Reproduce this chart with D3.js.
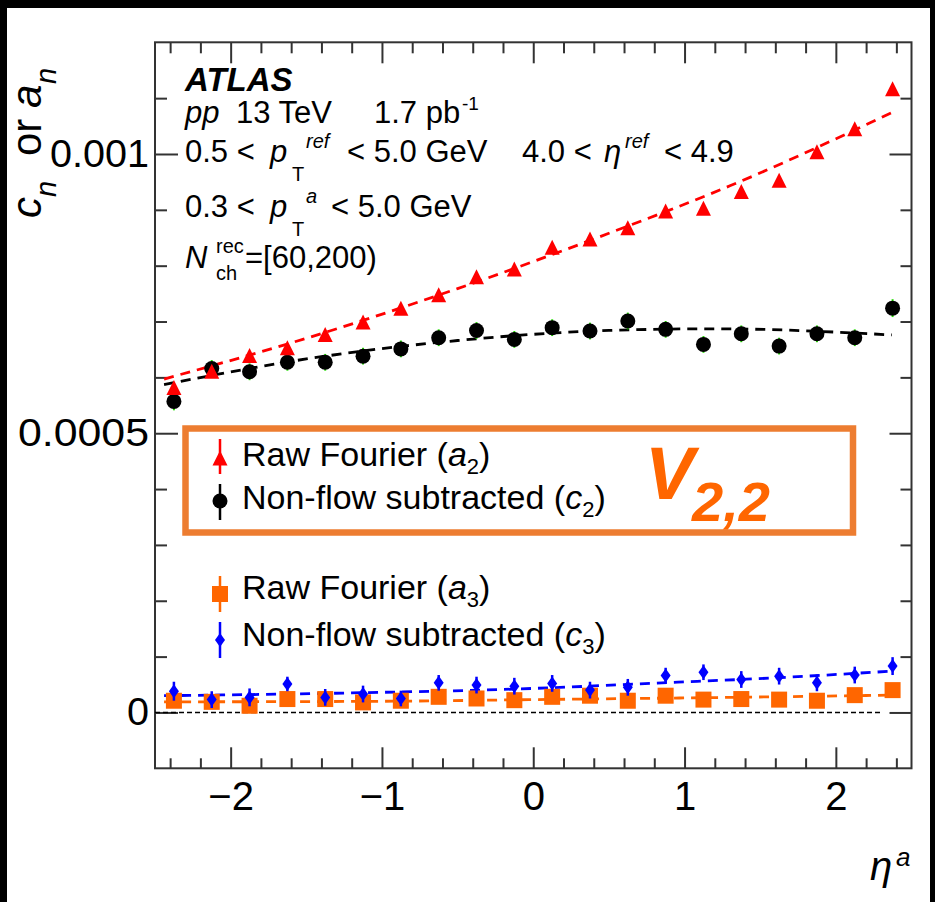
<!DOCTYPE html>
<html><head><meta charset="utf-8">
<script src="https://cdn.jsdelivr.net/npm/d3@7"></script>
<style>html,body{margin:0;padding:0;background:#000;}svg{display:block;}</style>
</head><body>
<script>
// ---------- data ----------
const etaBins = [-2.375,-2.125,-1.875,-1.625,-1.375,-1.125,-0.875,-0.625,-0.375,-0.125,
                 0.125,0.375,0.625,0.875,1.125,1.375,1.625,1.875,2.125,2.375];
const a2 = [5.82,6.11,6.39,6.53,6.77,6.99,7.24,7.48,7.80,7.94,8.33,8.48,8.68,8.98,9.03,9.33,9.53,10.04,10.45,11.17].map(v=>v*1e-4);
const c2 = [5.57,6.16,6.10,6.27,6.27,6.38,6.51,6.71,6.84,6.68,6.89,6.83,7.01,6.86,6.59,6.78,6.56,6.78,6.71,7.24].map(v=>v*1e-4);
const a3 = [0.21,0.19,0.12,0.24,0.24,0.18,0.21,0.28,0.25,0.22,0.28,0.30,0.21,0.30,0.23,0.24,0.23,0.21,0.31,0.40].map(v=>v*1e-4);
const c3 = [0.38,0.23,0.27,0.51,0.27,0.33,0.25,0.53,0.49,0.47,0.52,0.40,0.45,0.66,0.72,0.59,0.65,0.53,0.67,0.83].map(v=>v*1e-4);
const c2Err = [0.16,0.15,0.15,0.15,0.15,0.15,0.15,0.15,0.15,0.15,0.15,0.15,0.15,0.15,0.15,0.15,0.15,0.15,0.15,0.16].map(v=>v*1e-4);
const c3Err = [0.17,0.15,0.16,0.13,0.15,0.15,0.14,0.14,0.15,0.15,0.15,0.15,0.15,0.14,0.14,0.15,0.15,0.15,0.15,0.16].map(v=>v*1e-4);
// fitted (dashed) curves as [eta, value*1e4]
const fitA2 = [[-2.44,5.97],[-1.5,6.70],[-0.5,7.59],[0.5,8.58],[1.3,9.43],[2.37,10.74]];
const fitC2 = [[-2.44,5.87],[-1.5,6.33],[-0.5,6.66],[0.5,6.84],[1.2,6.87],[2.37,6.76]];
const fitA3 = [[-2.44,0.19],[-1.0,0.20],[0.0,0.23],[1.0,0.26],[2.37,0.31]];
const fitC3 = [[-2.44,0.30],[-1.2,0.35],[0.0,0.43],[0.85,0.53],[1.6,0.62],[2.37,0.74]];
const zeroLine = [[-2.5,0],[2.31,0]];
const xMajor = [-2,-1,0,1,2];
const xMinor = [-2.4,-2.2,-1.8,-1.6,-1.4,-1.2,-0.8,-0.6,-0.4,-0.2,0.2,0.4,0.6,0.8,1.2,1.4,1.6,1.8,2.2,2.4];
const xLabels = ["\u22122","\u22121","0","1","2"];
const yMajor = [0,0.0005,0.001];
const yLabels = ["0","0.0005","0.001"];
const yMinor = [0.0001,0.0002,0.0003,0.0004,0.0006,0.0007,0.0008,0.0009,0.0011];

const W=935,H=902;
const F = "'Liberation Sans', Arial, Helvetica, sans-serif";
const svg = d3.select("body").append("svg").attr("width",W).attr("height",H).style("font-family",F);
svg.append("rect").attr("width",W).attr("height",H).attr("fill","#000");
svg.append("rect").attr("x",7).attr("y",8).attr("width",923).attr("height",H-8).attr("fill","#fff");

const L=155,R=911.5,T=42.3,B=768.3;
const x = d3.scaleLinear().domain([-2.5,2.5]).range([L,R]);
const y = d3.scaleLinear().domain([-0.0001,0.0012]).range([B,T]);

const axColor="#333";
function styleAxis(g){ g.select(".domain").remove(); g.selectAll(".tick line").attr("stroke",axColor).attr("stroke-width",2); }
// bottom
svg.append("g").attr("transform",`translate(0,${B})`).call(d3.axisBottom(x).tickValues(xMinor).tickSize(-10).tickFormat("")).call(styleAxis);
const gxb = svg.append("g").attr("transform",`translate(0,${B})`)
  .call(d3.axisBottom(x).tickValues(xMajor).tickSize(-21).tickPadding(13).tickFormat((d,i)=>xLabels[i])).call(styleAxis);
gxb.selectAll("text").attr("font-size",40).attr("fill","#000").attr("font-family",F);
// top
svg.append("g").attr("transform",`translate(0,${T})`).call(d3.axisTop(x).tickValues(xMinor).tickSize(-11).tickFormat("")).call(styleAxis);
svg.append("g").attr("transform",`translate(0,${T})`).call(d3.axisTop(x).tickValues(xMajor).tickSize(-21).tickFormat("")).call(styleAxis);
// left
svg.append("g").attr("transform",`translate(${L},0)`).call(d3.axisLeft(y).tickValues(yMinor).tickSize(-12).tickFormat("")).call(styleAxis);
const gyl = svg.append("g").attr("transform",`translate(${L},0)`)
  .call(d3.axisLeft(y).tickValues(yMajor).tickSize(-23).tickPadding(6).tickFormat((d,i)=>yLabels[i])).call(styleAxis);
const yLabLen = {"0":22,"0.0005":131,"0.001":99};
gyl.selectAll("text").attr("font-size",38).attr("fill","#000").attr("font-family",F)
  .attr("textLength",(d,i)=>yLabLen[yLabels[i]]).attr("lengthAdjust","spacingAndGlyphs");
// right
svg.append("g").attr("transform",`translate(${R},0)`).call(d3.axisRight(y).tickValues(yMinor).tickSize(-11).tickFormat("")).call(styleAxis);
svg.append("g").attr("transform",`translate(${R},0)`).call(d3.axisRight(y).tickValues(yMajor).tickSize(-22).tickFormat("")).call(styleAxis);
// frame
svg.append("rect").attr("x",L).attr("y",T).attr("width",R-L).attr("height",B-T).attr("fill","none").attr("stroke",axColor).attr("stroke-width",2);

// zero line
const lineFn = d3.line().x(d=>x(d[0])).y(d=>y(d[1]));
svg.append("path").attr("d",lineFn(zeroLine)).attr("stroke","#000").attr("stroke-width",1.5).attr("stroke-dasharray","5,3").attr("fill","none");

// fit curves
const fitLine = d3.line().x(d=>x(d[0])).y(d=>y(d[1]*1e-4)).curve(d3.curveMonotoneX);
function fit(data,color){ svg.append("path").attr("d",fitLine(data)).attr("fill","none").attr("stroke",color).attr("stroke-width",2.8).attr("stroke-dasharray","10,7"); }
fit(fitA3,"#FF6600"); fit(fitC3,"#0000FF"); fit(fitA2,"#FF0000"); fit(fitC2,"#000");

// markers
const tri=(cx,cy,s)=>`M${cx-s},${cy+s}L${cx+s},${cy+s}L${cx},${cy-s}Z`;
const dia=(cx,cy,w,h)=>`M${cx},${cy-h}L${cx+w},${cy}L${cx},${cy+h}L${cx-w},${cy}Z`;

// a3 squares
svg.append("g").selectAll("rect").data(a3).join("rect")
  .attr("x",(d,i)=>x(etaBins[i])-8).attr("y",d=>y(d)-8).attr("width",16).attr("height",16).attr("fill","#FF6600");
// c3 diamonds with error bars
svg.append("g").selectAll("line").data(c3).join("line")
  .attr("x1",(d,i)=>x(etaBins[i])).attr("x2",(d,i)=>x(etaBins[i]))
  .attr("y1",(d,i)=>y(d-c3Err[i])).attr("y2",(d,i)=>y(d+c3Err[i])).attr("stroke","#0000FF").attr("stroke-width",2.5);
svg.append("g").selectAll("path").data(c3).join("path")
  .attr("d",(d,i)=>dia(x(etaBins[i]),y(d),5,7)).attr("fill","#0000FF");
// c2 circles with green error bars
svg.append("g").selectAll("line").data(c2).join("line")
  .attr("x1",(d,i)=>x(etaBins[i])).attr("x2",(d,i)=>x(etaBins[i]))
  .attr("y1",(d,i)=>y(d-c2Err[i])).attr("y2",(d,i)=>y(d+c2Err[i])).attr("stroke","#22DD00").attr("stroke-width",2);
svg.append("g").selectAll("circle").data(c2).join("circle")
  .attr("cx",(d,i)=>x(etaBins[i])).attr("cy",d=>y(d)).attr("r",7.5).attr("fill","#000");
// a2 triangles
svg.append("g").selectAll("path").data(a2).join("path")
  .attr("d",(d,i)=>tri(x(etaBins[i]),y(d),7.5)).attr("fill","#FF0000");

// ---------- texts ----------
function txt(xp,yp,s,size,opt={}){
  return svg.append("text").attr("x",xp).attr("y",yp).attr("font-size",size)
   .attr("font-style",opt.it?"italic":"normal").attr("font-weight",opt.b?"bold":"normal")
   .attr("fill",opt.c||"#000").style("white-space","pre").text(s);
}
txt(185,91,"ATLAS",33,{it:1,b:1});
txt(185,123,"pp",31,{it:1}); txt(236,123,"13 TeV",31); txt(374,123,"1.7 pb",31); txt(462,110,"-1",19);
txt(185,162,"0.5 <",31); txt(270,162,"p",31,{it:1}); txt(292,181,"T",20); txt(306,148,"ref",20,{it:1});
txt(347,162,"< 5.0 GeV",31); txt(522,162,"4.0 <",31); txt(604,162,"\u03B7",31,{it:1}); txt(625,148,"ref",20,{it:1}); txt(664,162,"< 4.9",31);
txt(185,217,"0.3 <",31); txt(270,217,"p",31,{it:1}); txt(292,236,"T",20); txt(306,203,"a",20,{it:1}); txt(331,217,"< 5.0 GeV",31);
txt(185,268,"N",31,{it:1}); txt(216,253,"rec",20); txt(216,280,"ch",20); txt(245,268,"=[60,200)",31);

// legend box
svg.append("rect").attr("x",185.5).attr("y",428.5).attr("width",667.5).attr("height",104)
  .attr("fill","none").attr("stroke","#ED7D31").attr("stroke-width",6.5);
// legend entries
const legX=220;
svg.append("line").attr("x1",legX).attr("x2",legX).attr("y1",439).attr("y2",474).attr("stroke","#FF0000").attr("stroke-width",2.5);
svg.append("path").attr("d",tri(legX,458,7.5)).attr("fill","#FF0000");
svg.append("line").attr("x1",legX).attr("x2",legX).attr("y1",484).attr("y2",520).attr("stroke","#000").attr("stroke-width",2.5);
svg.append("circle").attr("cx",legX).attr("cy",501).attr("r",7.5).attr("fill","#000");
svg.append("line").attr("x1",legX).attr("x2",legX).attr("y1",576).attr("y2",612).attr("stroke","#FF6600").attr("stroke-width",2.5);
svg.append("rect").attr("x",legX-8).attr("y",586).attr("width",16).attr("height",16).attr("fill","#FF6600");
svg.append("line").attr("x1",legX).attr("x2",legX).attr("y1",622).attr("y2",658).attr("stroke","#0000FF").attr("stroke-width",2.5);
svg.append("path").attr("d",dia(legX,640,5,7)).attr("fill","#0000FF");

function legText(yb,pre,sym,sub){
  const t=svg.append("text").attr("x",242).attr("y",yb).attr("font-size",34).style("white-space","pre");
  t.append("tspan").text(pre);
  t.append("tspan").attr("font-style","italic").text(sym);
  t.append("tspan").attr("font-size",22).attr("dy",8).text(sub);
  t.append("tspan").attr("dy",-8).text(")");
}
legText(466,"Raw Fourier (","a","2");
legText(509,"Non-flow subtracted (","c","2");
legText(599,"Raw Fourier (","a","3");
legText(646,"Non-flow subtracted (","c","3");

txt(645,499,"V",74,{it:1,b:1,c:"#FF6600"});
txt(692,521,"2,2",56,{it:1,b:1,c:"#FF6600"});

// axis titles
const yt = svg.append("g").attr("transform","translate(41,218) rotate(-90)");
function yts(xp,s,size,it,dy){ yt.append("text").attr("x",xp).attr("y",dy||0).attr("font-size",size).attr("font-style",it?"italic":"normal").text(s); }
yts(0,"c",42,1); yts(21,"n",29,1,15); yts(62,"or",42,0); yts(110,"a",42,1); yts(134,"n",29,1,15);
txt(870,880,"\u03B7",40,{it:1}); txt(896,866,"a",26,{it:1});
</script>
</body></html>
